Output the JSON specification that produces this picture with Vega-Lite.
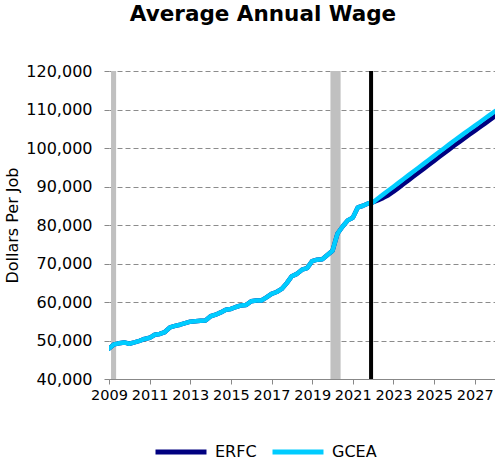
{
  "$schema": "https://vega.github.io/schema/vega-lite/v6.json",
  "width": 386,
  "height": 308,
  "autosize": {"type": "none"},
  "padding": {"left": 109, "top": 71, "right": 0, "bottom": 88},
  "config": {
    "font": "DejaVu Sans",
    "view": {"stroke": null}
  },
  "title": {
    "text": "Average Annual Wage",
    "fontSize": 21.5,
    "fontWeight": "bold",
    "color": "#000000",
    "anchor": "middle",
    "frame": "group",
    "dx": -39,
    "offset": 38
  },
  "datasets": {
    "wage": [
      {"t": 2009.0, "ERFC": 47900, "GCEA": 47900},
      {"t": 2009.25, "ERFC": 49000, "GCEA": 49000},
      {"t": 2009.5, "ERFC": 49300, "GCEA": 49300},
      {"t": 2009.75, "ERFC": 49500, "GCEA": 49500},
      {"t": 2010.0, "ERFC": 49150, "GCEA": 49150},
      {"t": 2010.25, "ERFC": 49500, "GCEA": 49500},
      {"t": 2010.5, "ERFC": 49900, "GCEA": 49900},
      {"t": 2010.75, "ERFC": 50400, "GCEA": 50400},
      {"t": 2011.0, "ERFC": 50700, "GCEA": 50700},
      {"t": 2011.25, "ERFC": 51500, "GCEA": 51500},
      {"t": 2011.5, "ERFC": 51700, "GCEA": 51700},
      {"t": 2011.75, "ERFC": 52200, "GCEA": 52200},
      {"t": 2012.0, "ERFC": 53400, "GCEA": 53400},
      {"t": 2012.25, "ERFC": 53800, "GCEA": 53800},
      {"t": 2012.5, "ERFC": 54100, "GCEA": 54100},
      {"t": 2012.75, "ERFC": 54500, "GCEA": 54500},
      {"t": 2013.0, "ERFC": 54900, "GCEA": 54900},
      {"t": 2013.25, "ERFC": 55000, "GCEA": 55000},
      {"t": 2013.5, "ERFC": 55100, "GCEA": 55100},
      {"t": 2013.75, "ERFC": 55200, "GCEA": 55200},
      {"t": 2014.0, "ERFC": 56300, "GCEA": 56300},
      {"t": 2014.25, "ERFC": 56700, "GCEA": 56700},
      {"t": 2014.5, "ERFC": 57300, "GCEA": 57300},
      {"t": 2014.75, "ERFC": 58000, "GCEA": 58000},
      {"t": 2015.0, "ERFC": 58200, "GCEA": 58200},
      {"t": 2015.25, "ERFC": 58700, "GCEA": 58700},
      {"t": 2015.5, "ERFC": 59100, "GCEA": 59100},
      {"t": 2015.75, "ERFC": 59200, "GCEA": 59200},
      {"t": 2016.0, "ERFC": 60200, "GCEA": 60200},
      {"t": 2016.25, "ERFC": 60400, "GCEA": 60400},
      {"t": 2016.5, "ERFC": 60400, "GCEA": 60400},
      {"t": 2016.75, "ERFC": 61200, "GCEA": 61200},
      {"t": 2017.0, "ERFC": 62100, "GCEA": 62100},
      {"t": 2017.25, "ERFC": 62600, "GCEA": 62600},
      {"t": 2017.5, "ERFC": 63400, "GCEA": 63400},
      {"t": 2017.75, "ERFC": 64900, "GCEA": 64900},
      {"t": 2018.0, "ERFC": 66700, "GCEA": 66700},
      {"t": 2018.25, "ERFC": 67300, "GCEA": 67300},
      {"t": 2018.5, "ERFC": 68400, "GCEA": 68400},
      {"t": 2018.75, "ERFC": 68800, "GCEA": 68800},
      {"t": 2019.0, "ERFC": 70600, "GCEA": 70600},
      {"t": 2019.25, "ERFC": 71000, "GCEA": 71000},
      {"t": 2019.5, "ERFC": 71100, "GCEA": 71100},
      {"t": 2019.75, "ERFC": 72200, "GCEA": 72200},
      {"t": 2020.0, "ERFC": 73300, "GCEA": 73300},
      {"t": 2020.25, "ERFC": 77800, "GCEA": 77800},
      {"t": 2020.5, "ERFC": 79600, "GCEA": 79600},
      {"t": 2020.75, "ERFC": 81200, "GCEA": 81200},
      {"t": 2021.0, "ERFC": 81900, "GCEA": 81900},
      {"t": 2021.25, "ERFC": 84600, "GCEA": 84600},
      {"t": 2021.5, "ERFC": 85000, "GCEA": 85000},
      {"t": 2021.75, "ERFC": 85600, "GCEA": 85600},
      {"t": 2022.0, "ERFC": 85900, "GCEA": 85900},
      {"t": 2022.25, "ERFC": 86450, "GCEA": 86950},
      {"t": 2022.5, "ERFC": 87050, "GCEA": 87950},
      {"t": 2022.75, "ERFC": 87750, "GCEA": 88950},
      {"t": 2023.0, "ERFC": 88650, "GCEA": 89950},
      {"t": 2023.25, "ERFC": 89650, "GCEA": 90950},
      {"t": 2023.5, "ERFC": 90650, "GCEA": 91950},
      {"t": 2023.75, "ERFC": 91650, "GCEA": 92950},
      {"t": 2024.0, "ERFC": 92650, "GCEA": 93950},
      {"t": 2024.25, "ERFC": 93650, "GCEA": 94950},
      {"t": 2024.5, "ERFC": 94650, "GCEA": 95950},
      {"t": 2024.75, "ERFC": 95650, "GCEA": 96950},
      {"t": 2025.0, "ERFC": 96650, "GCEA": 97950},
      {"t": 2025.25, "ERFC": 97650, "GCEA": 98950},
      {"t": 2025.5, "ERFC": 98650, "GCEA": 99950},
      {"t": 2025.75, "ERFC": 99650, "GCEA": 100950},
      {"t": 2026.0, "ERFC": 100650, "GCEA": 101950},
      {"t": 2026.25, "ERFC": 101600, "GCEA": 102900},
      {"t": 2026.5, "ERFC": 102550, "GCEA": 103850},
      {"t": 2026.75, "ERFC": 103500, "GCEA": 104800},
      {"t": 2027.0, "ERFC": 104450, "GCEA": 105750},
      {"t": 2027.25, "ERFC": 105400, "GCEA": 106700},
      {"t": 2027.5, "ERFC": 106350, "GCEA": 107650},
      {"t": 2027.75, "ERFC": 107300, "GCEA": 108600},
      {"t": 2028.0, "ERFC": 108250, "GCEA": 109550}
    ],
    "recess": [
      {"start": 2009.1, "end": 2009.35},
      {"start": 2019.9, "end": 2020.4}
    ],
    "marker": [
      {"t": 2021.9}
    ]
  },
  "layer": [
    {
      "data": {"name": "recess"},
      "mark": {"type": "rect", "color": "#c0c0c0"},
      "encoding": {
        "x": {"field": "start", "type": "quantitative", "scale": {"domain": [2009, 2028], "nice": false, "zero": false}},
        "x2": {"field": "end"}
      }
    },
    {
      "data": {"name": "wage"},
      "transform": [{"fold": ["ERFC", "GCEA"], "as": ["series", "value"]}],
      "mark": {"type": "line", "strokeWidth": 4.5, "strokeCap": "round", "strokeJoin": "round", "clip": true},
      "encoding": {
        "x": {
          "field": "t",
          "type": "quantitative",
          "scale": {"domain": [2009, 2028], "nice": false, "zero": false},
          "axis": {
            "title": null,
            "values": [2009, 2010, 2011, 2012, 2013, 2014, 2015, 2016, 2017, 2018, 2019, 2020, 2021, 2022, 2023, 2024, 2025, 2026, 2027, 2028],
            "format": "d",
            "labelExpr": "datum.value % 2 == 1 ? datum.label : ''",
            "labelOverlap": false,
            "labelFlush": false,
            "labelFontSize": 14.5,
            "labelColor": "#000000",
            "labelPadding": 4,
            "domainColor": "#888888",
            "tickColor": "#888888",
            "tickSize": 5,
            "grid": false
          }
        },
        "y": {
          "field": "value",
          "type": "quantitative",
          "scale": {"domain": [40000, 120000], "nice": false, "zero": false},
          "axis": {
            "title": "Dollars Per Job",
            "titleFontSize": 16,
            "titleFontWeight": "normal",
            "titleColor": "#000000",
            "titlePadding": 5,
            "values": [40000, 50000, 60000, 70000, 80000, 90000, 100000, 110000, 120000],
            "format": ",d",
            "labelFontSize": 16,
            "labelColor": "#000000",
            "labelPadding": 12,
            "labelFlush": false,
            "domain": false,
            "tickColor": "#888888",
            "tickSize": 5,
            "grid": true,
            "gridColor": "#8c8c8c",
            "gridDash": [5, 3],
            "gridWidth": 1
          }
        },
        "color": {
          "field": "series",
          "type": "nominal",
          "scale": {"domain": ["ERFC", "GCEA"], "range": ["#000080", "#00ccff"]},
          "legend": {
            "title": null,
            "orient": "none",
            "direction": "horizontal",
            "legendX": 44,
            "legendY": 353,
            "symbolType": "stroke",
            "symbolSize": 2600,
            "symbolStrokeWidth": 5,
            "labelFontSize": 16,
            "labelColor": "#000000",
            "labelOffset": 6,
            "columnPadding": 5
          }
        }
      }
    },
    {
      "data": {"name": "marker"},
      "mark": {"type": "rule", "color": "#000000", "strokeWidth": 4},
      "encoding": {
        "x": {"field": "t", "type": "quantitative", "scale": {"domain": [2009, 2028], "nice": false, "zero": false}}
      }
    }
  ]
}
